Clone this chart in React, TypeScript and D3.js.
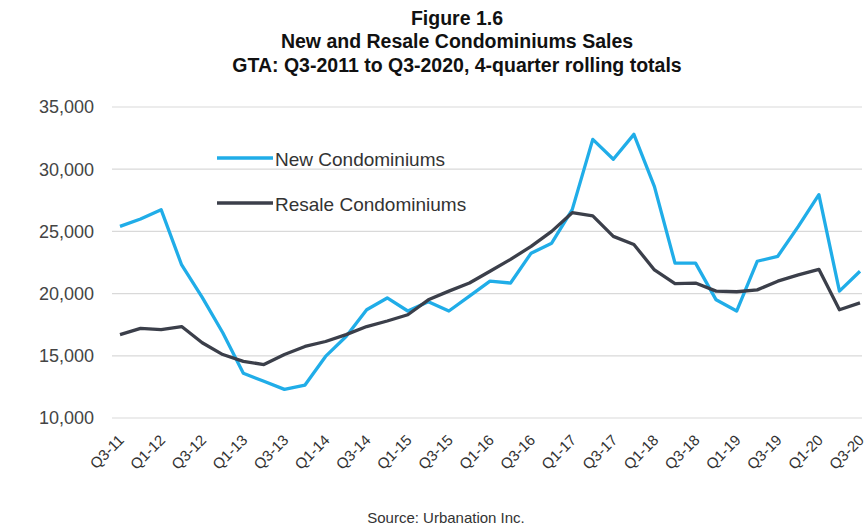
import React from "react";
import * as d3 from "d3";

const quarters = [
  "Q3-11","Q4-11","Q1-12","Q2-12","Q3-12","Q4-12","Q1-13","Q2-13","Q3-13","Q4-13",
  "Q1-14","Q2-14","Q3-14","Q4-14","Q1-15","Q2-15","Q3-15","Q4-15","Q1-16","Q2-16",
  "Q3-16","Q4-16","Q1-17","Q2-17","Q3-17","Q4-17","Q1-18","Q2-18","Q3-18","Q4-18",
  "Q1-19","Q2-19","Q3-19","Q4-19","Q1-20","Q2-20","Q3-20",
];
const newCondos = [
  25400, 26000, 26750, 22300, 19700, 16850, 13600, 12950, 12300, 12650,
  14950, 16550, 18700, 19650, 18600, 19350, 18600, 19800, 21000, 20850,
  23250, 24050, 26750, 32400, 30800, 32800, 28600, 22450, 22450, 19500,
  18600, 22600, 23000, 25400, 27950, 20200, 21800,
];
const resaleCondos = [
  16700, 17200, 17100, 17350, 16050, 15100, 14550, 14300, 15100, 15750,
  16150, 16700, 17350, 17800, 18300, 19500, 20200, 20850, 21800, 22750,
  23800, 25000, 26500, 26250, 24600, 23950, 21900, 20800, 20850, 20200,
  20150, 20300, 21000, 21500, 21950, 18700, 19250,
];
const yTicks = [10000, 15000, 20000, 25000, 30000, 35000];
const titleLines = [
  "Figure 1.6",
  "New and Resale Condominiums Sales",
  "GTA: Q3-2011 to Q3-2020, 4-quarter rolling totals",
];
const seriesNames = ["New Condominiums", "Resale Condominiums"];
const seriesColors = ["#20ade8", "#3b3f4a"];

export default function App() {
  const W = 867, H = 529;
  const x = d3.scaleLinear().domain([0, quarters.length - 1]).range([120, 860]);
  const y = d3.scaleLinear().domain([10000, 35000]).range([418, 107]);
  const line = d3.line<number>().x((_, i) => x(i)).y((d) => y(d));
  const fmt = d3.format(",");
  const font = "Arial, 'Liberation Sans', sans-serif";
  const series = [newCondos, resaleCondos];
  return (
    <svg width={W} height={H} style={{ position: "absolute", left: 0, top: 0, background: "#fff" }} fontFamily={font}>
      {titleLines.map((t, i) => (
        <text key={t} x={457} y={18 + i * 23.5} dy="0.35em" textAnchor="middle" fontWeight="bold" fontSize={19.5} fill="#111">
          {t}
        </text>
      ))}
      {yTicks.map((v) => (
        <g key={v}>
          <line x1={112} x2={862} y1={y(v)} y2={y(v)} stroke="#d9d9d9" strokeWidth={1.2} />
          <text x={94} y={y(v)} dy="0.35em" textAnchor="end" fontSize={18} fill="#444">
            {fmt(v)}
          </text>
        </g>
      ))}
      {quarters.map((q, i) =>
        i % 2 === 0 ? (
          <text key={q} transform={`translate(${x(i) + 5},${441}) rotate(-45)`} textAnchor="end" fontSize={15} fill="#333">
            {q}
          </text>
        ) : null
      )}
      {series.map((s, k) => (
        <path key={k} d={line(s) || ""} fill="none" stroke={seriesColors[k]} strokeWidth={3.3} strokeLinejoin="round" />
      ))}
      {seriesNames.map((n, k) => (
        <g key={n}>
          <line x1={217} x2={273} y1={158 + k * 45} y2={158 + k * 45} stroke={seriesColors[k]} strokeWidth={3.3} />
          <text x={275} y={159 + k * 45} dy="0.35em" fontSize={19} fill="#333">
            {n}
          </text>
        </g>
      ))}
      <text x={446} y={518} dy="0.35em" textAnchor="middle" fontSize={15} fill="#333">
        Source: Urbanation Inc.
      </text>
    </svg>
  );
}
